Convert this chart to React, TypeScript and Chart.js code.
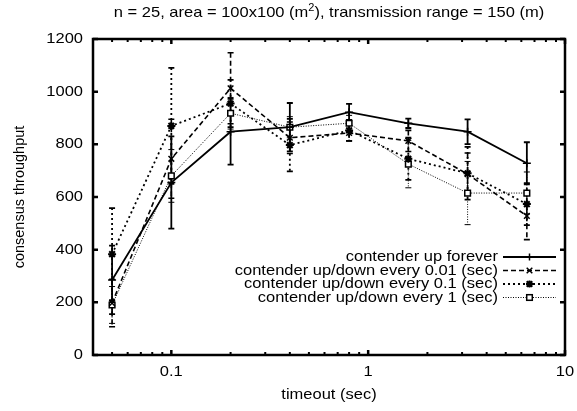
import React, { useEffect, useRef } from "react";
import { Chart, registerables } from "chart.js";

Chart.register(...registerables);

// ---- data ----
const xValues = [0.05, 0.1, 0.2, 0.4, 0.8, 1.6, 3.2, 6.4];

const upForever = [285, 655, 848, 865, 922, 880, 848, 728];
const upForeverErr = [130, 175, 125, 92, 32, 18, 47, 80];

const every001 = [197, 745, 1013, 825, 843, 813, 687, 528];
const every001Err = [90, 150, 135, 60, 30, 40, 80, 90];

const every01 = [383, 870, 955, 797, 853, 745, 690, 573];
const every01Err = [175, 220, 90, 100, 40, 80, 100, 80];

const every1 = [190, 680, 918, 865, 880, 725, 615, 615];
const every1Err = [70, 100, 60, 40, 30, 90, 120, 80];

const seriesLabels = [
  "contender up forever",
  "contender up/down every 0.01 (sec)",
  "contender up/down every 0.1 (sec)",
  "contender up/down every 1 (sec)",
];

const yTickValues = [0, 200, 400, 600, 800, 1000, 1200];
const xMajorTicks = [0.1, 1, 10];
const xTickLabels = ["0.1", "1", "10"];
const xMinorTicks = [0.04, 0.05, 0.06, 0.07, 0.08, 0.09, 0.2, 0.3, 0.4, 0.5, 0.6, 0.7, 0.8, 0.9, 2, 3, 4, 5, 6, 7, 8, 9];

const titleParts = ["n = 25, area = 100x100 (m", "2", "), transmission range = 150 (m)"];
const xTitle = "timeout (sec)";
const yTitle = "consensus throughput";

// ---- styling ----
const FONT_FAMILY = '"Liberation Sans", Arial, Helvetica, sans-serif';
const FS = 15;
const SX = 1.1;

const styles = [
  { dash: [] as number[], width: 1.8, point: "cross" },
  { dash: [5, 3], width: 1.6, point: "crossRot" },
  { dash: [2, 3], width: 1.8, point: "star" },
  { dash: [1, 1.5], width: 1, point: "rect" },
];

const values = [upForever, every001, every01, every1];
const errors = [upForeverErr, every001Err, every01Err, every1Err];

function drawText(ctx: CanvasRenderingContext2D, s: string, x: number, y: number, align: string, size = FS) {
  ctx.save();
  ctx.font = `${size}px ${FONT_FAMILY}`;
  ctx.textBaseline = "middle";
  ctx.textAlign = "left";
  const w = ctx.measureText(s).width * SX;
  let left = x;
  if (align === "right") left = x - w;
  else if (align === "center") left = x - w / 2;
  ctx.translate(left, y);
  ctx.scale(SX, 1);
  ctx.fillStyle = "#000";
  ctx.fillText(s, 0, 0);
  ctx.restore();
  return w;
}

function measure(ctx: CanvasRenderingContext2D, s: string, size = FS) {
  ctx.save();
  ctx.font = `${size}px ${FONT_FAMILY}`;
  const w = ctx.measureText(s).width * SX;
  ctx.restore();
  return w;
}

function drawMarker(ctx: CanvasRenderingContext2D, style: string, x: number, y: number, r: number) {
  ctx.save();
  ctx.setLineDash([]);
  ctx.strokeStyle = "#000";
  ctx.lineWidth = 1.5;
  ctx.beginPath();
  if (style === "cross") {
    ctx.moveTo(x - r, y); ctx.lineTo(x + r, y);
    ctx.moveTo(x, y - r); ctx.lineTo(x, y + r);
    ctx.stroke();
  } else if (style === "crossRot") {
    const d = r * 0.8;
    ctx.moveTo(x - d, y - d); ctx.lineTo(x + d, y + d);
    ctx.moveTo(x - d, y + d); ctx.lineTo(x + d, y - d);
    ctx.stroke();
  } else if (style === "star") {
    ctx.lineWidth = 2;
    const d = r * 0.8;
    ctx.moveTo(x - r, y); ctx.lineTo(x + r, y);
    ctx.moveTo(x, y - r); ctx.lineTo(x, y + r);
    ctx.moveTo(x - d, y - d); ctx.lineTo(x + d, y + d);
    ctx.moveTo(x - d, y + d); ctx.lineTo(x + d, y - d);
    ctx.stroke();
  } else {
    ctx.fillStyle = "#fff";
    ctx.fillRect(x - r * 0.8, y - r * 0.8, r * 1.6, r * 1.6);
    ctx.strokeRect(x - r * 0.8, y - r * 0.8, r * 1.6, r * 1.6);
  }
  ctx.restore();
}

const errorBarPlugin = {
  id: "errorBars",
  beforeDatasetsDraw(chart: any) {
    const ctx: CanvasRenderingContext2D = chart.ctx;
    const xs = chart.scales.x;
    const ys = chart.scales.y;
    ctx.save();
    ctx.strokeStyle = "#000";
    values.forEach((arr, i) => {
      const st = styles[i];
      arr.forEach((v, j) => {
        const e = errors[i][j];
        const x = xs.getPixelForValue(xValues[j]);
        const yt = ys.getPixelForValue(Math.min(v + e, 1200));
        const yb = ys.getPixelForValue(Math.max(v - e, 0));
        ctx.lineWidth = st.width;
        ctx.setLineDash(st.dash);
        ctx.beginPath();
        ctx.moveTo(x, yt);
        ctx.lineTo(x, yb);
        ctx.stroke();
        ctx.setLineDash([]);
        ctx.lineWidth = st.width;
        ctx.beginPath();
        ctx.moveTo(x - 3, yt); ctx.lineTo(x + 3, yt);
        ctx.moveTo(x - 3, yb); ctx.lineTo(x + 3, yb);
        ctx.stroke();
      });
    });
    ctx.restore();
  },
};

const decorPlugin = {
  id: "decor",
  afterDraw(chart: any) {
    const ctx: CanvasRenderingContext2D = chart.ctx;
    const xs = chart.scales.x;
    const ys = chart.scales.y;
    const a = chart.chartArea;
    ctx.save();
    ctx.strokeStyle = "#000";
    ctx.setLineDash([]);
    // frame
    ctx.lineWidth = 2.5;
    ctx.strokeRect(a.left, a.top, a.right - a.left, a.bottom - a.top);
    // y ticks
    ctx.lineWidth = 2.5;
    yTickValues.forEach((v) => {
      const y = ys.getPixelForValue(v);
      ctx.beginPath();
      ctx.moveTo(a.left, y); ctx.lineTo(a.left + 5, y);
      ctx.moveTo(a.right, y); ctx.lineTo(a.right - 5, y);
      ctx.stroke();
      drawText(ctx, String(v), a.left - 10, y, "right");
    });
    // x major ticks
    xMajorTicks.forEach((v, i) => {
      const x = xs.getPixelForValue(v);
      ctx.lineWidth = 2.5;
      ctx.beginPath();
      ctx.moveTo(x, a.bottom); ctx.lineTo(x, a.bottom - 5);
      ctx.moveTo(x, a.top); ctx.lineTo(x, a.top + 5);
      ctx.stroke();
      drawText(ctx, xTickLabels[i], x, a.bottom + 17, "center");
    });
    // x minor ticks
    ctx.lineWidth = 2;
    xMinorTicks.forEach((v) => {
      const x = xs.getPixelForValue(v);
      ctx.beginPath();
      ctx.moveTo(x, a.bottom); ctx.lineTo(x, a.bottom - 3);
      ctx.moveTo(x, a.top); ctx.lineTo(x, a.top + 3);
      ctx.stroke();
    });
    // title with superscript
    const cx = (a.left + a.right) / 2;
    const w0 = measure(ctx, titleParts[0]);
    const w1 = measure(ctx, titleParts[1], 10);
    const w2 = measure(ctx, titleParts[2]);
    let tx = cx - (w0 + w1 + w2) / 2;
    const ty = 13;
    drawText(ctx, titleParts[0], tx, ty, "left");
    tx += w0;
    drawText(ctx, titleParts[1], tx, ty - 5, "left", 10);
    tx += w1;
    drawText(ctx, titleParts[2], tx, ty, "left");
    // x axis title
    drawText(ctx, xTitle, cx, 395, "center");
    // y axis title (rotated)
    ctx.save();
    ctx.translate(20, (a.top + a.bottom) / 2);
    ctx.rotate(-Math.PI / 2);
    ctx.font = `14.5px ${FONT_FAMILY}`;
    ctx.textAlign = "center";
    ctx.textBaseline = "middle";
    ctx.fillStyle = "#000";
    ctx.fillText(yTitle, 0, 0);
    ctx.restore();
    // legend
    const textRight = 498;
    const lx0 = 503;
    const lx1 = 556;
    seriesLabels.forEach((lab, i) => {
      const y = 257 + i * 13.5;
      drawText(ctx, lab, textRight, y, "right");
      const st = styles[i];
      ctx.save();
      ctx.lineWidth = st.width;
      ctx.setLineDash(st.dash);
      ctx.beginPath();
      ctx.moveTo(lx0, y); ctx.lineTo(lx1, y);
      ctx.stroke();
      ctx.restore();
      drawMarker(ctx, st.point, (lx0 + lx1) / 2, y, 3.5);
    });
    ctx.restore();
  },
};

export default function App() {
  const ref = useRef<HTMLCanvasElement>(null);
  useEffect(() => {
    if (!ref.current) return;
    const datasets = values.map((arr, i) => ({
      label: seriesLabels[i],
      data: arr.map((y, j) => ({ x: xValues[j], y })),
      borderColor: "#000",
      backgroundColor: "#000",
      borderWidth: styles[i].width,
      borderDash: styles[i].dash,
      pointStyle: styles[i].point as any,
      pointRadius: 4,
      pointBorderWidth: styles[i].point === "star" ? 2 : 1.5,
      pointBorderColor: "#000",
      pointBackgroundColor: styles[i].point === "rect" ? "#fff" : "#000",
      tension: 0,
      fill: false,
    }));
    const chart = new Chart(ref.current, {
      type: "line",
      data: { datasets },
      options: {
        responsive: false,
        animation: false,
        devicePixelRatio: 1,
        layout: { padding: { top: 39, right: 12, left: 0, bottom: 0 } },
        plugins: {
          legend: { display: false },
          title: { display: false },
          tooltip: { enabled: false },
        },
        scales: {
          x: {
            type: "logarithmic",
            min: 0.04,
            max: 10,
            grid: { display: false },
            border: { display: false },
            ticks: { display: false },
            afterFit: (s: any) => { s.height = 56; },
          },
          y: {
            type: "linear",
            min: 0,
            max: 1200,
            grid: { display: false },
            border: { display: false },
            ticks: { display: false, stepSize: 200 },
            afterFit: (s: any) => { s.width = 93; },
          },
        },
      },
      plugins: [errorBarPlugin, decorPlugin],
    });
    return () => chart.destroy();
  }, []);
  return (
    <div style={{ position: "fixed", left: 0, top: 0, width: 577, height: 411, background: "#fff" }}>
      <canvas ref={ref} width={577} height={411} />
    </div>
  );
}
